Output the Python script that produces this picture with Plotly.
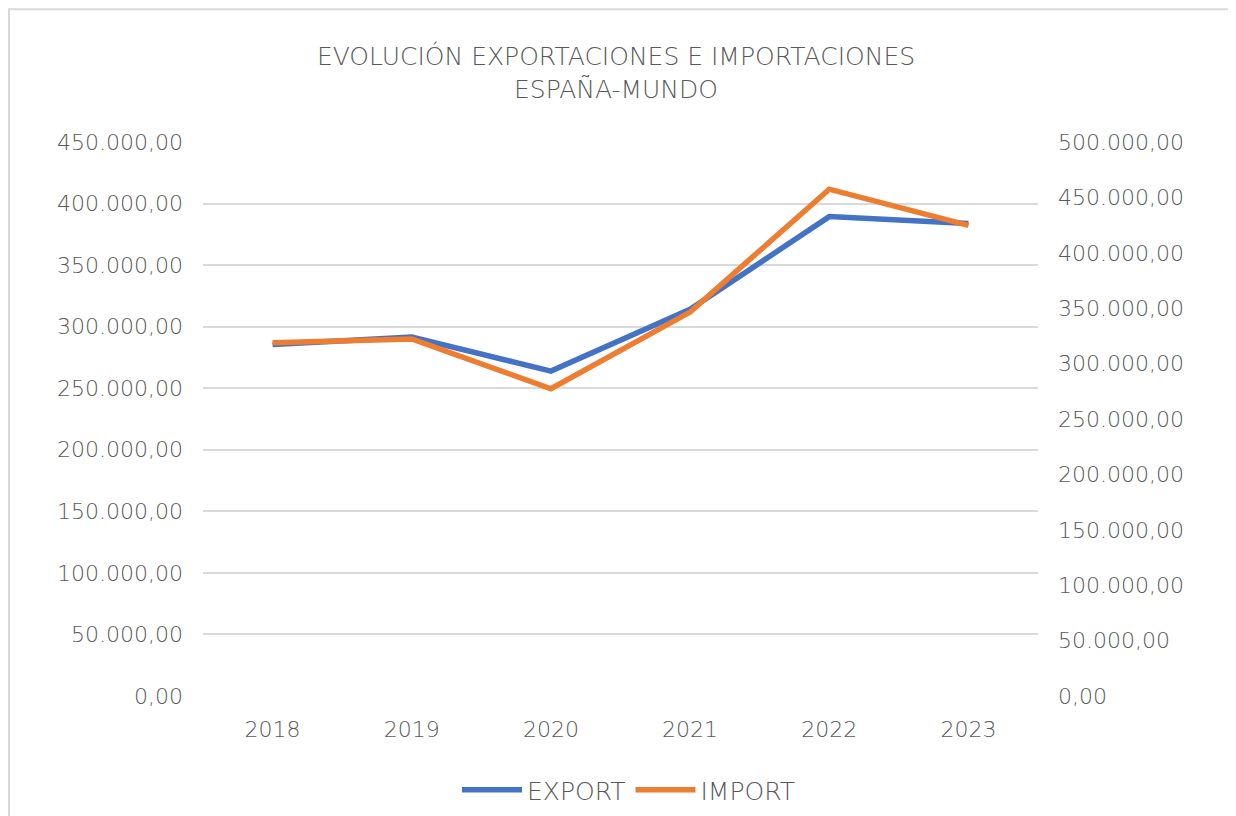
import plotly.graph_objects as go

years = ["2018", "2019", "2020", "2021", "2022", "2023"]
export_vals = [285600, 291500, 263900, 314100, 389400, 383700]
import_vals = [318900, 322300, 277300, 346500, 457400, 424800]

left_ticks = list(range(0, 450001, 50000))
right_ticks = list(range(0, 500001, 50000))

W, H = 1236, 816
OFF = 8  # page body margin
ML, MR, MT, MB = 203 - OFF, 198 + OFF, 142 - OFF, 119 + OFF
GRAY = "#595959"
FONT = "DejaVu Sans"
FW = 300

fig = go.Figure()
fig.add_trace(go.Scatter(x=years, y=export_vals, name="EXPORT", mode="lines",
                         line=dict(color="#4472C4", width=5.5), yaxis="y"))
fig.add_trace(go.Scatter(x=years, y=import_vals, name="IMPORT", mode="lines",
                         line=dict(color="#ED7D31", width=5.5), yaxis="y2"))

pw = W - ML - MR
ph = H - MT - MB
fig.add_shape(type="rect", xref="paper", yref="paper",
              x0=(9 - OFF - ML) / pw, x1=(1260 - ML) / pw,
              y0=(H - MB - 830) / ph, y1=(H - MB - (9 - OFF)) / ph,
              line=dict(color="#d9d9d9", width=2), fillcolor="rgba(0,0,0,0)", layer="below")

fig.update_layout(
    width=W, height=H,
    margin=dict(l=ML, r=MR, t=MT, b=MB),
    paper_bgcolor="white", plot_bgcolor="white",
    separators=",.",
    font=dict(family=FONT, size=22, color=GRAY, weight=FW),
    title=dict(text="EVOLUCIÓN EXPORTACIONES E IMPORTACIONES<br>ESPAÑA-MUNDO",
               x=(616 - OFF) / W, xanchor="center", y=1 - (65 - OFF) / H, yanchor="top",
               font=dict(family=FONT, size=25, color=GRAY, weight=FW)),
    xaxis=dict(type="category", range=[-0.5, 5.5], showgrid=False, showline=False,
               ticks="", tickfont=dict(size=22, color=GRAY, weight=FW), ticklabelstandoff=18,
               zeroline=False),
    yaxis=dict(range=[0, 450000], tickvals=left_ticks, tickformat=",.2f",
               showgrid=True, gridcolor="#d9d9d9", gridwidth=2, zeroline=False,
               showline=False, ticks="", ticklabelstandoff=19,
               tickfont=dict(size=22, color=GRAY, weight=FW)),
    yaxis2=dict(range=[0, 500000], tickvals=right_ticks, tickformat=",.2f",
                overlaying="y", side="right", showgrid=False, zeroline=False,
                showline=False, ticks="", ticklabelstandoff=19,
                tickfont=dict(size=22, color=GRAY, weight=FW)),
    legend=dict(orientation="h", x=(629 - OFF - ML) / pw,
                xanchor="center", y=-93 / ph, yanchor="middle",
                font=dict(size=25, color=GRAY, weight=FW), itemwidth=60, traceorder="normal"),
    showlegend=True,
)

fig.write_html("out.html")
